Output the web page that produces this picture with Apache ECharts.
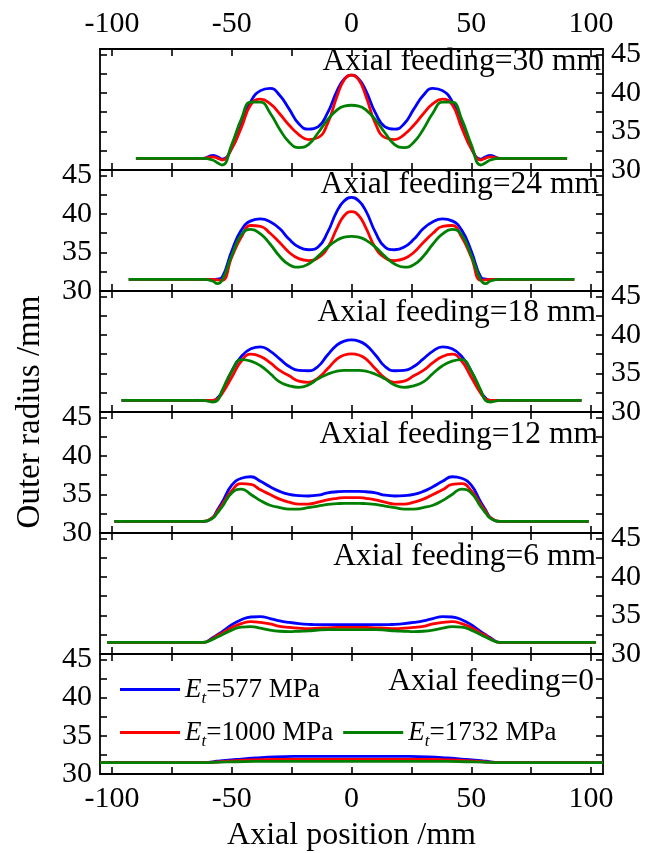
<!DOCTYPE html>
<html>
<head>
<meta charset="utf-8">
<script src="https://cdn.jsdelivr.net/npm/echarts@6/dist/echarts.min.js"></script>
<style>
html,body{margin:0;padding:0;background:#fff;}
#chart{width:656px;height:853px;}
</style>
</head>
<body>
<div id="chart"></div>
<script>
// ---- tick values ----
const xTicks = [-100,-75,-50,-25,0,25,50,75,100];
const xTickLabels = [-100,-50,0,50,100];
const yTicks = [30,32.5,35,37.5,40,42.5,45];
const yTickLabels = [30,35,40,45];

// ---- series names / labels ----
const seriesNames = ['577','1000','1732'];
const panelLabels = ['Axial feeding=30 mm','Axial feeding=24 mm','Axial feeding=18 mm','Axial feeding=12 mm','Axial feeding=6 mm','Axial feeding=0'];

// ---- Axial feeding = 30 mm ----
const x30 = [-90,-62,-58,-56,-54,-50,-46,-42,-38,-34,-30,-26,-22,-18,-14,-10,-6,-3,0,3,6,10,14,18,22,26,30,34,38,42,46,50,54,56,58,62,90];
const blue30 = [31.5,31.5,31.9,31.7,31.4,32.8,35.8,38.9,40.3,40.6,39.7,37.9,36.0,35.3,35.6,37.4,40.3,41.8,42.3,41.8,40.3,37.4,35.6,35.3,36.0,37.9,39.7,40.6,40.3,38.9,35.8,32.8,31.4,31.7,31.9,31.5,31.5];
const red30 = [31.5,31.5,31.7,31.55,31.3,32.8,35.5,38.5,39.2,38.6,37.3,35.8,34.6,33.95,34.2,36.0,39.6,41.7,42.3,41.7,39.6,36.0,34.2,33.95,34.6,35.8,37.3,38.6,39.2,38.5,35.5,32.8,31.3,31.55,31.7,31.5,31.5];
const green30 = [31.5,31.5,31.3,30.95,30.65,33.3,36.6,38.8,38.8,37.4,35.3,33.6,32.9,33.3,34.8,36.5,37.8,38.3,38.4,38.3,37.8,36.5,34.8,33.3,32.9,33.6,35.3,37.4,38.8,38.8,36.6,33.3,30.65,30.95,31.3,31.5,31.5];

// ---- Axial feeding = 24 mm ----
const x24 = [-93,-62,-58,-56,-54,-50,-46,-42,-38,-34,-30,-26,-22,-18,-14,-10,-6,-3,0,3,6,10,14,18,22,26,30,34,38,42,46,50,54,56,58,62,93];
const blue24 = [31.5,31.5,31.5,31.55,31.8,35.2,37.9,39.1,39.35,39.0,38.1,36.7,35.7,35.35,35.7,37.6,40.4,41.7,42.15,41.7,40.4,37.6,35.7,35.35,35.7,36.7,38.1,39.0,39.35,39.1,37.9,35.2,31.8,31.55,31.5,31.5,31.5];
const red24 = [31.5,31.5,31.5,31.45,31.4,34.4,37.0,38.5,38.4,37.5,36.3,35.0,34.2,33.95,34.3,35.6,38.2,39.8,40.3,39.8,38.2,35.6,34.3,33.95,34.2,35.0,36.3,37.5,38.4,38.5,37.0,34.4,31.4,31.45,31.5,31.5,31.5];
const green24 = [31.5,31.5,31.3,30.95,31.4,34.6,37.3,38.0,37.4,36.1,34.5,33.4,33.1,33.5,34.5,35.7,36.6,37.0,37.1,37.0,36.6,35.7,34.5,33.5,33.1,33.4,34.5,36.1,37.4,38.0,37.3,34.6,31.4,30.95,31.3,31.5,31.5];

// ---- Axial feeding = 18 mm ----
const x18 = [-96,-62,-58,-56,-54,-50,-46,-42,-38,-34,-30,-26,-22,-18,-14,-10,-6,-3,0,3,6,10,14,18,22,26,30,34,38,42,46,50,54,56,58,62,96];
const blue18 = [31.5,31.5,31.5,31.8,32.6,35.3,37.2,38.2,38.45,37.9,36.9,35.9,35.4,35.35,35.9,37.4,38.7,39.2,39.35,39.2,38.7,37.4,35.9,35.35,35.4,35.9,36.9,37.9,38.45,38.2,37.2,35.3,32.6,31.8,31.5,31.5,31.5];
const red18 = [31.5,31.5,31.5,31.7,32.4,34.5,36.6,37.5,37.2,36.4,35.4,34.7,34.0,33.85,34.4,35.6,36.9,37.4,37.55,37.4,36.9,35.6,34.4,33.85,34.0,34.7,35.4,36.4,37.2,37.5,36.6,34.5,32.4,31.7,31.5,31.5,31.5];
const green18 = [31.5,31.5,31.3,31.5,32.8,35.3,36.8,36.6,36.0,35.0,33.9,33.4,33.2,33.5,34.3,34.9,35.3,35.4,35.4,35.4,35.3,34.9,34.3,33.5,33.2,33.4,33.9,35.0,36.0,36.6,36.8,35.3,32.8,31.5,31.3,31.5,31.5];

// ---- Axial feeding = 12 mm ----
const x12 = [-99,-62,-58,-56,-54,-50,-46,-42,-38,-34,-30,-26,-22,-18,-14,-10,-6,-3,0,3,6,10,14,18,22,26,30,34,38,42,46,50,54,56,58,62,99];
const blue12 = [31.5,31.5,32.0,33.0,34.0,36.2,37.1,37.3,36.7,36.0,35.4,35.0,34.85,34.8,34.9,35.2,35.35,35.4,35.4,35.4,35.35,35.2,34.9,34.8,34.85,35.0,35.4,36.0,36.7,37.3,37.1,36.2,34.0,33.0,32.0,31.5,31.5];
const red12 = [31.5,31.5,32.0,32.8,33.7,35.5,36.4,36.3,35.6,35.0,34.4,34.0,33.75,33.75,34.0,34.3,34.5,34.6,34.6,34.6,34.5,34.3,34.0,33.75,33.75,34.0,34.4,35.0,35.6,36.3,36.4,35.5,33.7,32.8,32.0,31.5,31.5];
const green12 = [31.5,31.5,31.9,32.6,33.4,35.2,35.7,35.0,34.2,33.6,33.3,33.1,33.1,33.3,33.5,33.7,33.8,33.85,33.85,33.85,33.8,33.7,33.5,33.3,33.1,33.1,33.3,33.6,34.2,35.0,35.7,35.2,33.4,32.6,31.9,31.5,31.5];

// ---- Axial feeding = 6 mm ----
const x6 = [-102,-62,-58,-56,-54,-50,-46,-42,-38,-34,-30,-26,-22,-18,-14,-10,-6,-3,0,3,6,10,14,18,22,26,30,34,38,42,46,50,54,56,58,62,102];
const blue6 = [31.5,31.5,32.1,32.5,32.9,33.8,34.45,34.8,34.85,34.6,34.3,34.1,33.95,33.85,33.8,33.8,33.8,33.8,33.8,33.8,33.8,33.8,33.8,33.85,33.95,34.1,34.3,34.6,34.85,34.8,34.45,33.8,32.9,32.5,32.1,31.5,31.5];
const red6 = [31.5,31.5,32.0,32.4,32.7,33.45,33.95,34.2,34.1,33.9,33.6,33.45,33.35,33.3,33.35,33.4,33.45,33.45,33.45,33.45,33.45,33.4,33.35,33.3,33.35,33.45,33.6,33.9,34.1,34.2,33.95,33.45,32.7,32.4,32.0,31.5,31.5];
const green6 = [31.5,31.5,31.9,32.2,32.5,33.1,33.5,33.55,33.35,33.1,32.95,32.9,32.95,33.0,33.1,33.15,33.15,33.15,33.15,33.15,33.15,33.15,33.1,33.0,32.95,32.9,32.95,33.1,33.35,33.55,33.5,33.1,32.5,32.2,31.9,31.5,31.5];

// ---- Axial feeding = 0 ----
const x0 = [-105,-62,-55,-48,-40,-32,-24,-16,-8,0,8,16,24,32,40,48,55,62,105];
const blue0 = [31.5,31.5,31.7,31.9,32.1,32.25,32.3,32.3,32.3,32.3,32.3,32.3,32.3,32.25,32.1,31.9,31.7,31.5,31.5];
const red0 = [31.5,31.5,31.6,31.75,31.85,31.9,31.9,31.9,31.9,31.9,31.9,31.9,31.9,31.9,31.85,31.75,31.6,31.5,31.5];
const green0 = [31.5,31.5,31.55,31.6,31.65,31.65,31.65,31.65,31.65,31.65,31.65,31.65,31.65,31.65,31.65,31.6,31.55,31.5,31.5];

const panels = [
  {x: x30, ys: [blue30, red30, green30]},
  {x: x24, ys: [blue24, red24, green24]},
  {x: x18, ys: [blue18, red18, green18]},
  {x: x12, ys: [blue12, red12, green12]},
  {x: x6,  ys: [blue6, red6, green6]},
  {x: x0,  ys: [blue0, red0, green0]}
];

const colors = ['#0000FF','#FF0000','#008000'];
const FONT = '"Liberation Serif", "Times New Roman", serif';

const gridTops = [49,170,291,412,533,654];
const gridHeights = [121,121,121,121,121,122];
const labelY = [62,185,313,435,557,682];
const labelRight = [55,57,60,58,60,62];

const grids = [], xAxes = [], yAxes = [], series = [], titles = [];
const lineCol = '#000';

for (let i = 0; i < 6; i++) {
  grids.push({left: 100, right: 53, top: gridTops[i], height: gridHeights[i]});
  ['bottom','top'].forEach(function(pos){
    const showLab = (pos === 'bottom' && i === 5) || (pos === 'top' && i === 0);
    xAxes.push({
      type: 'value', gridIndex: i, position: pos, min: -105, max: 105,
      axisLine: {show: true, onZero: false, lineStyle: {color: lineCol, width: 1.8}},
      axisTick: {show: true, inside: true, length: 7, customValues: xTicks, lineStyle: {color: lineCol, width: 1.6}},
      axisLabel: {show: showLab, customValues: xTickLabels, margin: 10, color: '#000', fontFamily: FONT, fontSize: 30},
      splitLine: {show: false},
      name: (pos === 'bottom' && i === 5) ? 'Axial position /mm' : '',
      nameLocation: 'middle', nameGap: 46,
      nameTextStyle: {color: '#000', fontFamily: FONT, fontSize: 32}
    });
  });
  ['left','right'].forEach(function(pos){
    const showLab = (pos === 'left' && i % 2 === 1) || (pos === 'right' && i % 2 === 0);
    yAxes.push({
      type: 'value', gridIndex: i, position: pos, min: 30, max: 45.7,
      axisLine: {show: true, onZero: false, lineStyle: {color: lineCol, width: 1.8}},
      axisTick: {show: true, inside: true, length: 7, customValues: yTicks, lineStyle: {color: lineCol, width: 1.6}},
      axisLabel: {show: showLab, customValues: yTickLabels, margin: 8, color: '#000', fontFamily: FONT, fontSize: 30},
      splitLine: {show: false}
    });
  });
  const p = panels[i];
  for (let k = 0; k < 3; k++) {
    series.push({
      type: 'line', name: seriesNames[k], xAxisIndex: 2*i, yAxisIndex: 2*i,
      data: p.x.map(function(v, j){ return [v, p.ys[k][j]]; }),
      showSymbol: false, symbol: 'none', smooth: 0.5,
      lineStyle: {color: colors[k], width: 2.8}, itemStyle: {color: colors[k]},
      z: 2 + k, silent: true, animation: false
    });
  }
  titles.push({
    text: panelLabels[i], right: labelRight[i], top: labelY[i] - 18, padding: 0,
    textStyle: {color: '#000', fontFamily: FONT, fontWeight: 'normal', fontSize: 31.5, lineHeight: 36}
  });
}

const legendRich = {
  i: {fontFamily: FONT, fontSize: 27, fontStyle: 'italic', color: '#000'},
  s: {fontFamily: FONT, fontSize: 17, fontStyle: 'italic', color: '#000', padding: [18,0,0,0]},
  n: {fontFamily: FONT, fontSize: 27, color: '#000'}
};
function legFmt(name){ return '{i|E}{s|t}{n|=' + name + ' MPa}'; }

const option = {
  backgroundColor: '#fff',
  animation: false,
  title: titles,
  grid: grids,
  xAxis: xAxes,
  yAxis: yAxes,
  legend: [
    {data: ['577'], left: 115, top: 671, itemWidth: 60, itemHeight: 3, itemGap: 10, icon: 'rect', formatter: legFmt,
     textStyle: {rich: legendRich, fontFamily: FONT, fontSize: 27, color: '#000'}},
    {data: ['1000','1732'], left: 115, top: 714, itemWidth: 60, itemHeight: 3, itemGap: 10, icon: 'rect', formatter: legFmt,
     textStyle: {rich: legendRich, fontFamily: FONT, fontSize: 27, color: '#000'}}
  ],
  graphic: [
    {type: 'text', x: 30, y: 412, rotation: Math.PI/2,
     style: {text: 'Outer radius /mm', fill: '#000', font: 'normal 33px "Liberation Serif"', align: 'center', verticalAlign: 'middle'}}
  ],
  series: series
};

const chart = echarts.init(document.getElementById('chart'), null, {renderer: 'canvas'});
chart.setOption(option);
</script>
</body>
</html>
